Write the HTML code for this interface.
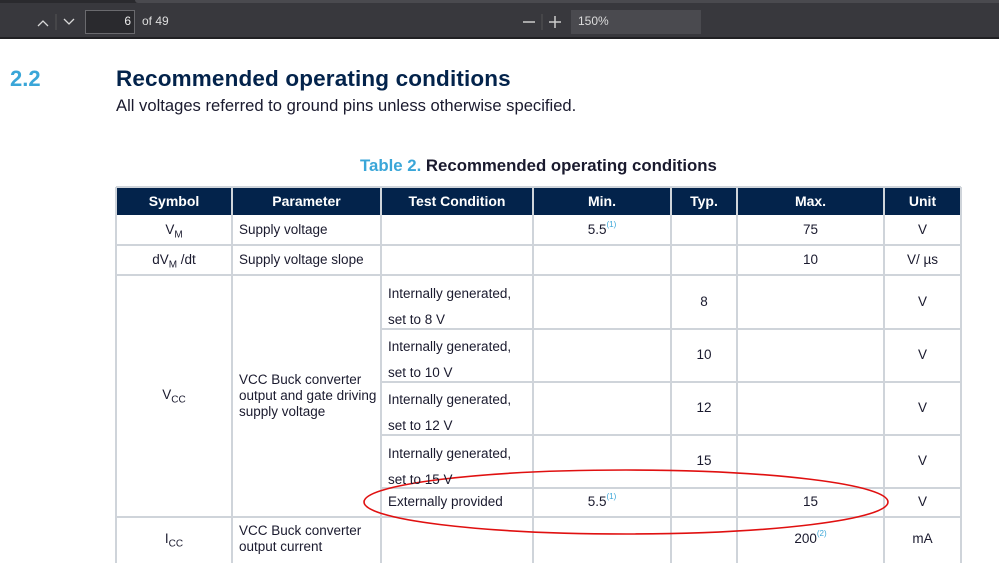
<!DOCTYPE html>
<html><head><meta charset="utf-8"><style>
body{margin:0;width:999px;height:563px;overflow:hidden;background:#fff;font-family:"Liberation Sans",Arial,sans-serif;position:relative}
.t{position:absolute;font-size:13.5px;color:#1a1a2e;white-space:nowrap}
.h{position:absolute;font-size:14px;color:#fff;font-weight:bold;text-align:center;top:193px}
.c{text-align:center}
sup.n{color:#3aa6d8;font-size:8px;vertical-align:top;position:relative;top:-2px}
sub{font-size:10px}
</style></head><body>
<div style="position:absolute;left:0;top:0;width:999px;height:38px;background:#38383d"></div>
<div style="position:absolute;left:0;top:0;width:999px;height:3px;background:#2a2a2e"></div>
<div style="position:absolute;left:135px;top:0;width:864px;height:3px;background:#4a4a4f;border-radius:0 0 0 4px"></div>
<div style="position:absolute;left:0;top:37px;width:999px;height:2px;background:#202023"></div>
<svg style="position:absolute;left:0;top:0" width="999" height="40">
<polyline points="38,26 43,21 48,26" fill="none" stroke="#d8d8d8" stroke-width="1.3"/>
<line x1="56" y1="14" x2="56" y2="30" stroke="#555" />
<polyline points="64,19 69,24 74,19" fill="none" stroke="#d8d8d8" stroke-width="1.3"/>
<line x1="523" y1="22" x2="535" y2="22" stroke="#ccc" stroke-width="1.5"/>
<line x1="542" y1="14" x2="542" y2="30" stroke="#555"/>
<line x1="549" y1="22" x2="561" y2="22" stroke="#ccc" stroke-width="1.5"/>
<line x1="555" y1="16" x2="555" y2="28" stroke="#ccc" stroke-width="1.5"/>
<polyline points="684,20 688,24 692,20" fill="none" stroke="#ccc" stroke-width="1.2"/>
</svg>
<div style="position:absolute;left:85px;top:10px;width:50px;height:24px;border:1px solid #6a6a6e;background:#2a2a2e;box-sizing:border-box"></div>
<div class="t" style="left:85px;top:14px;width:46px;text-align:right;color:#eee;font-size:12px">6</div>
<div class="t" style="left:142px;top:14px;color:#ddd;font-size:12px">of 49</div>
<div style="position:absolute;left:571px;top:10px;width:130px;height:24px;background:#4a4a4f"></div>
<div class="t" style="left:578px;top:14px;color:#ddd;font-size:12px">150%</div>

<div class="t" style="left:10px;top:66px;font-size:22px;font-weight:bold;color:#3aa6d8">2.2</div>
<div class="t" style="left:116px;top:66px;font-size:22.5px;font-weight:bold;color:#03234b;letter-spacing:0.15px">Recommended operating conditions</div>
<div class="t" style="left:116px;top:96px;font-size:16.6px;color:#1a1a2e">All voltages referred to ground pins unless otherwise specified.</div>
<div class="t" style="left:360px;top:156px;font-size:16.8px;font-weight:bold;color:#1a1a2e"><span style="color:#3aa6d8">Table 2.</span> Recommended operating conditions</div>

<div style="position:absolute;left:116px;top:187px;width:845px;height:28px;background:#03234b"></div>
<svg style="position:absolute;left:0;top:0" width="999" height="563">
<g stroke="#cfd4da" stroke-width="2" fill="none">
<line x1="116" y1="187" x2="961" y2="187"/>
<line x1="116" y1="245" x2="961" y2="245"/>
<line x1="116" y1="275" x2="961" y2="275"/>
<line x1="381" y1="329" x2="961" y2="329"/>
<line x1="381" y1="382" x2="961" y2="382"/>
<line x1="381" y1="435" x2="961" y2="435"/>
<line x1="381" y1="488" x2="961" y2="488"/>
<line x1="116" y1="517" x2="961" y2="517"/>
<line x1="116" y1="187" x2="116" y2="563"/>
<line x1="232" y1="187" x2="232" y2="563"/>
<line x1="381" y1="187" x2="381" y2="563"/>
<line x1="533" y1="187" x2="533" y2="563"/>
<line x1="671" y1="187" x2="671" y2="563"/>
<line x1="737" y1="187" x2="737" y2="563"/>
<line x1="884" y1="187" x2="884" y2="563"/>
<line x1="961" y1="187" x2="961" y2="563"/>
</g>
<ellipse cx="626" cy="502" rx="262" ry="32" fill="none" stroke="#e01010" stroke-width="1.6"/>
</svg>
<div class="h" style="left:116px;width:116px">Symbol</div>
<div class="h" style="left:232px;width:149px">Parameter</div>
<div class="h" style="left:381px;width:152px">Test Condition</div>
<div class="h" style="left:533px;width:138px">Min.</div>
<div class="h" style="left:671px;width:66px">Typ.</div>
<div class="h" style="left:737px;width:147px">Max.</div>
<div class="h" style="left:884px;width:77px">Unit</div>

<div class="t c" style="left:116px;width:116px;top:222px">V<sub>M</sub></div>
<div class="t" style="left:239px;top:222px">Supply voltage</div>
<div class="t c" style="left:533px;width:138px;top:222px">5.5<sup class="n">(1)</sup></div>
<div class="t c" style="left:737px;width:147px;top:222px">75</div>
<div class="t c" style="left:884px;width:77px;top:222px">V</div>

<div class="t c" style="left:116px;width:116px;top:252px">dV<sub>M</sub> /dt</div>
<div class="t" style="left:239px;top:252px">Supply voltage slope</div>
<div class="t c" style="left:737px;width:147px;top:252px">10</div>
<div class="t c" style="left:884px;width:77px;top:252px">V/ µs</div>

<div class="t c" style="left:116px;width:116px;top:387px">V<sub>CC</sub></div>
<div class="t" style="left:239px;top:372px;line-height:16px">VCC Buck converter<br>output and gate driving<br>supply voltage</div>

<div class="t" style="left:388px;top:281px;line-height:26px">Internally generated,<br>set to 8 V</div>
<div class="t c" style="left:671px;width:66px;top:294px">8</div>
<div class="t c" style="left:884px;width:77px;top:294px">V</div>
<div class="t" style="left:388px;top:334px;line-height:26px">Internally generated,<br>set to 10 V</div>
<div class="t c" style="left:671px;width:66px;top:347px">10</div>
<div class="t c" style="left:884px;width:77px;top:347px">V</div>
<div class="t" style="left:388px;top:387px;line-height:26px">Internally generated,<br>set to 12 V</div>
<div class="t c" style="left:671px;width:66px;top:400px">12</div>
<div class="t c" style="left:884px;width:77px;top:400px">V</div>
<div class="t" style="left:388px;top:441px;line-height:26px">Internally generated,<br>set to 15 V</div>
<div class="t c" style="left:671px;width:66px;top:453px">15</div>
<div class="t c" style="left:884px;width:77px;top:453px">V</div>

<div class="t" style="left:388px;top:494px">Externally provided</div>
<div class="t c" style="left:533px;width:138px;top:494px">5.5<sup class="n">(1)</sup></div>
<div class="t c" style="left:737px;width:147px;top:494px">15</div>
<div class="t c" style="left:884px;width:77px;top:494px">V</div>

<div class="t c" style="left:116px;width:116px;top:531px">I<sub>CC</sub></div>
<div class="t" style="left:239px;top:523px;line-height:16px">VCC Buck converter<br>output current</div>
<div class="t c" style="left:737px;width:147px;top:531px">200<sup class="n">(2)</sup></div>
<div class="t c" style="left:884px;width:77px;top:531px">mA</div>
</body></html>
